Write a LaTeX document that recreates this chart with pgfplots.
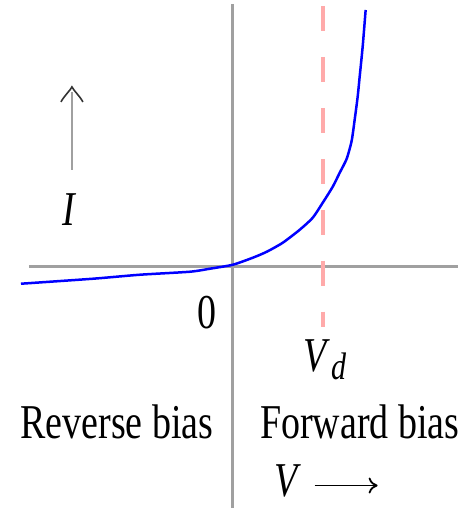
\documentclass[border=0pt]{standalone}
\usepackage{pgfplots}
\pgfplotsset{compat=1.18}
\usetikzlibrary{arrows.meta}
\usepackage{graphicx}
\usepackage{fontspec}
\setmainfont{Liberation Serif}
\newfontfamily\tfont{Liberation Serif}
\definecolor{axgray}{HTML}{A0A0A0}
\definecolor{dashpink}{HTML}{FFAAAA}
\newcommand{\st}[1]{\tfont\fontsize{38}{40}\selectfont\scalebox{1}[1.28]{#1}}
\begin{document}
\begin{tikzpicture}
\begin{axis}[
  width=468pt, height=509pt, scale only axis,
  xmin=-233, xmax=235, ymin=-242, ymax=267,
  axis lines=none, clip=false,
]
\path (rel axis cs:0,0) rectangle (rel axis cs:1,1);
% axes
\draw[axgray, line width=3pt] (axis cs:-204,0) -- (axis cs:225,0);
\draw[axgray, line width=3pt] (axis cs:0,263) -- (axis cs:0,-241);
% Vd dashed line
\addplot[dashpink, line width=4pt, dash pattern=on 25pt off 26pt] coordinates {(90,261) (90,-60)};
% I-V curve
\addplot[blue, line width=2.5pt, smooth, tension=0.4] coordinates {
(-212,-17) (-140,-12) (-93,-8) (-43,-5) (-23,-2) (0,2) (20,9) (34,15) (50,24)
(67,37) (80,49) (90,64) (100,80) (107,94) (114,108) (119,126) (122,147)
(125,170) (127,190) (130,220) (133,257)};
% labels
\node[inner sep=0pt] at (axis cs:-26,-46) {\st{0}};
\node[inner sep=0pt] at (axis cs:84,-89) {\st{\textit{V}}};
\node[inner sep=0pt] at (axis cs:106,-100) {\tfont\fontsize{30}{32}\selectfont\scalebox{1}[1.28]{\textit{d}}};
\node[inner sep=0pt] at (axis cs:-116,-155) {\st{Reverse bias}};
\node[inner sep=0pt] at (axis cs:127,-155) {\st{Forward bias}};
\node[inner sep=0pt] at (axis cs:55,-214) {\st{\textit{V}}};
\draw[black, line width=1.8pt, -{To[length=9pt,width=16pt]}] (axis cs:82,-219) -- (axis cs:145,-219);
\draw[axgray, line width=2.5pt] (axis cs:-161,97) -- (axis cs:-161,175);
\draw[black!80, line width=1.6pt] (axis cs:-172,165) .. controls (axis cs:-168,172) and (axis cs:-163,176) .. (axis cs:-161,180) .. controls (axis cs:-159,176) and (axis cs:-154,172) .. (axis cs:-150,165);
\node[inner sep=0pt] at (axis cs:-163,57) {\st{\textit{I}}};
\end{axis}
\end{tikzpicture}
\end{document}
